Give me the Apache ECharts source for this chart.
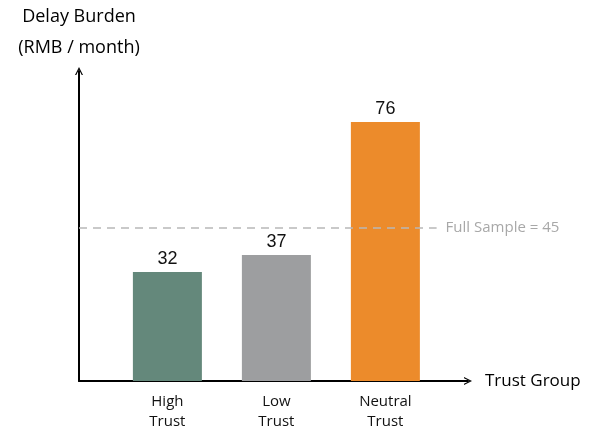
<!DOCTYPE html>
<html>
<head>
<meta charset="utf-8">
<script src="https://cdn.jsdelivr.net/npm/echarts@6/dist/echarts.min.js"></script>
<style>
  html, body { margin: 0; padding: 0; background: #ffffff; }
  #chart { width: 591px; height: 428px; }
</style>
</head>
<body>
<div id="chart"></div>
<script>
// Trust groups and their average delay burden (RMB / month)
const categories = ['High\nTrust', 'Low\nTrust', 'Neutral\nTrust'];
const burden = [32, 37, 76];
const barColors = ['#64887b', '#9d9ea0', '#ec8b2b'];
const fullSample = 45;

const positions = categories.map((_, i) => i + 1);
const xMin = 0.189;
const xMax = 3.758;

// Open chevron used as the axis arrow head
const chevron = 'path://M0,10 L5,0 L10,10 L8.4,10 L5,3 L1.6,10 Z';
const uiFont = '"Open Sans", Lato, sans-serif';

const chart = echarts.init(document.getElementById('chart'), null, { renderer: 'canvas' });

chart.setOption({
  animation: false,
  backgroundColor: '#ffffff',
  grid: { left: 79, right: 123, top: 71, bottom: 47, containLabel: false, outerBoundsMode: 'none' },
  xAxis: {
    type: 'value',
    min: xMin,
    max: xMax,
    name: 'Trust Group',
    nameLocation: 'end',
    nameGap: 17,
    nameTextStyle: { color: '#000', fontSize: 17, fontFamily: uiFont },
    splitLine: { show: false },
    axisTick: { show: false },
    axisLine: {
      show: true,
      lineStyle: { color: '#000', width: 2 },
      symbol: ['none', chevron],
      symbolSize: [11, 8]
    },
    axisLabel: {
      customValues: positions,
      formatter: v => categories[Math.round(v) - 1] || '',
      color: '#111',
      fontSize: 15,
      lineHeight: 20,
      margin: 11,
      fontFamily: uiFont
    }
  },
  yAxis: {
    type: 'value',
    min: 0,
    max: 91,
    name: 'Delay Burden\n(RMB / month)',
    nameLocation: 'end',
    nameGap: 8,
    nameTextStyle: { color: '#000', fontSize: 18, lineHeight: 31, fontFamily: uiFont, align: 'center' },
    splitLine: { show: false },
    axisTick: { show: false },
    axisLabel: { show: false },
    axisLine: {
      show: true,
      lineStyle: { color: '#000', width: 2 },
      symbol: ['none', chevron],
      symbolSize: [11, 8]
    }
  },
  series: [{
    type: 'bar',
    barWidth: 69,
    data: burden.map((v, i) => ({
      value: [positions[i], v],
      itemStyle: { color: barColors[i] }
    })),
    label: {
      show: true,
      position: 'top',
      distance: 4,
      formatter: p => p.value[1],
      color: '#111',
      fontSize: 18,
      fontFamily: '"Liberation Sans", Arial, sans-serif'
    },
    markLine: {
      silent: true,
      symbol: 'none',
      lineStyle: { color: '#b8b8b8', type: [8, 6], width: 1.5 },
      label: {
        show: true,
        position: 'end',
        distance: 9,
        formatter: 'Full Sample = ' + fullSample,
        color: '#a8a8a8',
        fontSize: 15,
        fontFamily: uiFont
      },
      data: [[{ coord: [xMin, fullSample] }, { coord: [3.47, fullSample] }]]
    }
  }]
});
</script>
</body>
</html>
